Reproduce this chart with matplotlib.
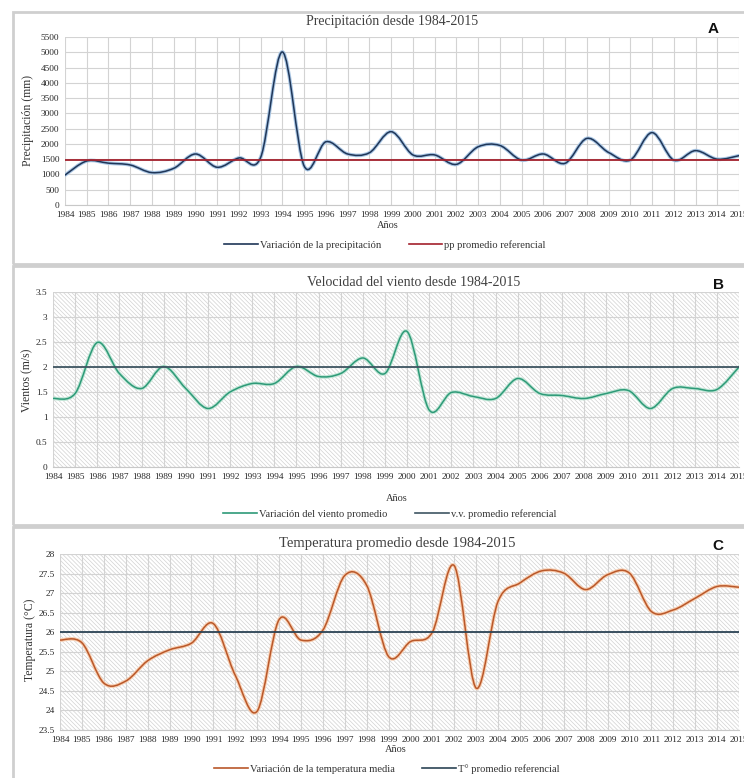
import matplotlib
matplotlib.use("Agg")
import matplotlib.pyplot as plt
import numpy as np
from matplotlib.path import Path
from matplotlib.patches import PathPatch, Rectangle
from matplotlib.lines import Line2D

plt.rcParams["font.family"] = ["Liberation Serif", "DejaVu Serif"]
plt.rcParams["hatch.color"] = "#d2d2d2"
plt.rcParams["hatch.linewidth"] = 0.5

years = list(range(1984, 2016))

precip = [980, 1440, 1370, 1310, 1060, 1200, 1670, 1235, 1540, 1560,
          5010, 1275, 2070, 1670, 1710, 2400, 1640, 1640, 1330, 1905,
          1950, 1470, 1670, 1365, 2180, 1720, 1470, 2370, 1470, 1780,
          1500, 1615]
precip_ref = 1480

wind = [1.37, 1.47, 2.49, 1.87, 1.57, 2.01, 1.57, 1.17, 1.50, 1.67,
        1.67, 2.01, 1.81, 1.87, 2.18, 1.87, 2.71, 1.14, 1.49, 1.41,
        1.37, 1.77, 1.47, 1.43, 1.37, 1.47, 1.53, 1.17, 1.57, 1.57,
        1.55, 2.00]
wind_ref = 2.0

temp = [25.80, 25.73, 24.70, 24.75, 25.27, 25.55, 25.72, 26.22, 24.90, 23.98,
        26.32, 25.80, 26.05, 27.45, 27.20, 25.38, 25.76, 26.00, 27.70, 24.57,
        26.79, 27.26, 27.57, 27.51, 27.09, 27.47, 27.51, 26.53, 26.57, 26.87,
        27.17, 27.15]
temp_ref = 26.0


def smooth_path(xs, ys):
    # excel-like smoothed line: cubic bezier segments through the points
    pts = np.column_stack([xs, ys]).astype(float)
    n = len(pts)
    verts = [pts[0]]
    codes = [Path.MOVETO]
    for i in range(n - 1):
        p0 = pts[max(i - 1, 0)]
        p1 = pts[i]
        p2 = pts[i + 1]
        p3 = pts[min(i + 2, n - 1)]
        verts += [p1 + (p2 - p0) / 6.0, p2 - (p3 - p1) / 6.0, p2]
        codes += [Path.CURVE4] * 3
    return Path(verts, codes)


def draw_panel(ax, values, ref, ylim, yticks, main_col, halo_col, ref_col,
               hatch=False):
    ax.set_xlim(years[0], years[-1])
    ax.set_ylim(*ylim)
    ax.set_yticks(yticks)
    ax.set_xticks(years)
    ax.set_xticklabels([str(y) for y in years])
    ax.tick_params(length=0, labelsize=6.7, colors="#262626", pad=4)
    ax.grid(True, color="#d3d3d3", linewidth=0.8)
    ax.set_axisbelow(True)
    for s in ["top", "right", "left"]:
        ax.spines[s].set_visible(False)
    ax.spines["bottom"].set_color("#c8c8c8")
    if hatch:
        ax.add_patch(Rectangle((0, 0), 1, 1, transform=ax.transAxes,
                               facecolor="none", edgecolor="#d2d2d2",
                               hatch="\\" * 8, linewidth=0, zorder=0))
    path = smooth_path(years, values)
    ax.add_patch(PathPatch(path, fill=False, edgecolor=halo_col,
                           linewidth=2.6, zorder=3, capstyle="round"))
    ax.add_patch(PathPatch(path, fill=False, edgecolor=main_col,
                           linewidth=1.1, zorder=4, capstyle="round"))
    ax.axhline(ref, color=ref_col, linewidth=1.3, zorder=5)


fig = plt.figure(figsize=(7.44, 7.78), dpi=100)
W, H = 744.0, 778.0


def fx(px):
    return px / W


def fy(py):
    return 1 - py / H


# panel frames
for top, bot in [(12, 264), (266, 525), (527, 790)]:
    fig.patches.append(Rectangle((fx(13), fy(bot)), fx(760 - 13), (bot - top) / H,
                                 transform=fig.transFigure, facecolor="none",
                                 edgecolor="#cfcfcf", linewidth=2, zorder=-1))

axA = fig.add_axes([fx(65), fy(205), fx(739 - 65), (205 - 37) / H])
axB = fig.add_axes([fx(53), fy(467), fx(739 - 53), (467 - 292) / H])
axC = fig.add_axes([fx(60), fy(730), fx(739 - 60), (730 - 554) / H])

draw_panel(axA, precip, precip_ref, (0, 5500), range(0, 5501, 500),
           "#1f3658", "#a9c6e4", "#a3202c")
draw_panel(axB, wind, wind_ref, (0, 3.5), [0, 0.5, 1, 1.5, 2, 2.5, 3, 3.5],
           "#2e9a78", "#bfe5d5", "#3e5562", hatch=True)
axB.set_yticklabels(["0", "0.5", "1", "1.5", "2", "2.5", "3", "3.5"])
draw_panel(axC, temp, temp_ref, (23.5, 28), np.arange(23.5, 28.01, 0.5),
           "#b9582a", "#f7cdb0", "#2c4455", hatch=True)
axC.set_yticklabels(["23.5", "24", "24.5", "25", "25.5", "26", "26.5",
                     "27", "27.5", "28"])

title_col = "#404040"
fig.text(fx(392), fy(21), "Precipitación desde 1984-2015", ha="center",
         va="center", fontsize=10, color=title_col)
fig.text(fx(414), fy(283), "Velocidad del viento desde 1984-2015", ha="center",
         va="center", fontsize=10, color=title_col)
fig.text(fx(397), fy(543), "Temperatura promedio desde 1984-2015", ha="center",
         va="center", fontsize=10.5, color=title_col)

for lab, x, y in [("A", 713, 29), ("B", 718, 285), ("C", 718, 546)]:
    fig.text(fx(x), fy(y), lab, ha="center", va="center", fontsize=11,
             fontweight="bold", family="Liberation Sans", color="#111111")

for lab, x, y in [("Precipitación (mm)", 28, 120), ("Vientos (m/s)", 27, 380),
                  ("Temperatura (°C)", 30, 640)]:
    fig.text(fx(x), fy(y), lab, ha="center", va="center", rotation=90,
             fontsize=8.5, color="#333333")

for x, y in [(388, 226), (397, 499), (396, 750)]:
    fig.text(fx(x), fy(y), "Años", ha="center", va="center", fontsize=7.5,
             color="#333333")

legends = [
    ("Variación de la precipitación", "pp promedio referencial",
     "#1f3658", "#a3202c", 385, 245),
    ("Variación del viento promedio", "v.v. promedio referencial",
     "#2e9a78", "#3e5562", 390, 514),
    ("Variación de la temperatura media", "T° promedio referencial",
     "#b9582a", "#2c4455", 387, 769),
]
for l1, l2, c1, c2, x, y in legends:
    handles = [Line2D([], [], color=c1, linewidth=1.2),
               Line2D([], [], color=c2, linewidth=1.2)]
    fig.legend(handles, [l1, l2], loc="center", ncol=2,
               bbox_to_anchor=(fx(x), fy(y)), frameon=False, fontsize=7.6,
               handlelength=3.2, handletextpad=0.2, columnspacing=2.6,
               labelcolor="#333333")

fig.savefig("out.png", dpi=100)
